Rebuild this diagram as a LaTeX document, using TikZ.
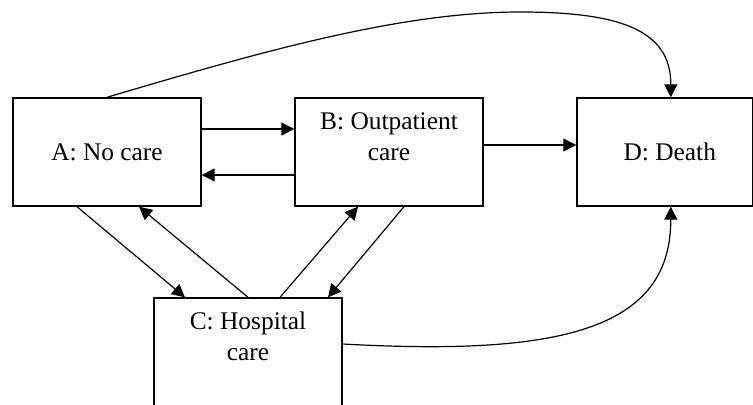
\documentclass[tikz,border=0pt]{standalone}
\usepackage{fontspec}
\setmainfont{Liberation Serif}
\usetikzlibrary{arrows.meta,calc}

\begin{document}
\begin{tikzpicture}[x=0.5pt,y=-0.5pt,
        state/.style={draw,line width=0.7pt,rectangle,minimum width=94pt,minimum height=54pt,
                      align=center,inner sep=0pt,font=\fontsize{12.7pt}{15.5pt}\selectfont},
        trans/.style={line width=0.6pt,-{Triangle[length=6.5pt,width=6.5pt]}}]
        \useasboundingbox (0,0) rectangle (753,405);
        % states
        \node[state] (A) at (107,152) {A: No care};
        \node[state] (B) at (389,152) {B: Outpatient\\care\\\mbox{}};
        \node[state] (C) at (248,352) {C: Hospital\\care\\\mbox{}};
        \node[state,minimum width=87.75pt] (D) at (664.75,152) {\hspace*{5pt}D: Death};
        % transitions
        \draw[trans] ($(A.east)+(0,-23)$) -- ($(B.west)+(0,-23)$);
        \draw[trans] ($(B.west)+(0,23)$) -- ($(A.east)+(0,23)$);
        \draw[trans] ($(B.east)+(0,-7)$) -- ($(D.west)+(0,-7)$);
        \draw[trans] ($(A.south)+(-30,0)$) -- ($(C.north)+(-63,0)$);
        \draw[trans] (C.north) -- ($(A.south)+(32,0)$);
        \draw[trans] ($(C.north)+(32,0)$) -- ($(B.south)+(-31,0)$);
        \draw[trans] ($(B.south)+(15,0)$) -- ($(C.north)+(80,0)$);
        \draw[trans] (A.north) .. controls (260,52) and (400,12) .. (520,12)
                     .. controls (620,12) and (671,30) .. ($(D.north)+(6,0)$);
        \draw[trans] ($(C.east)+(0,-8)$) .. controls (560,356) and (671,330) .. ($(D.south)+(6,0)$);
    \end{tikzpicture}
\end{document}
